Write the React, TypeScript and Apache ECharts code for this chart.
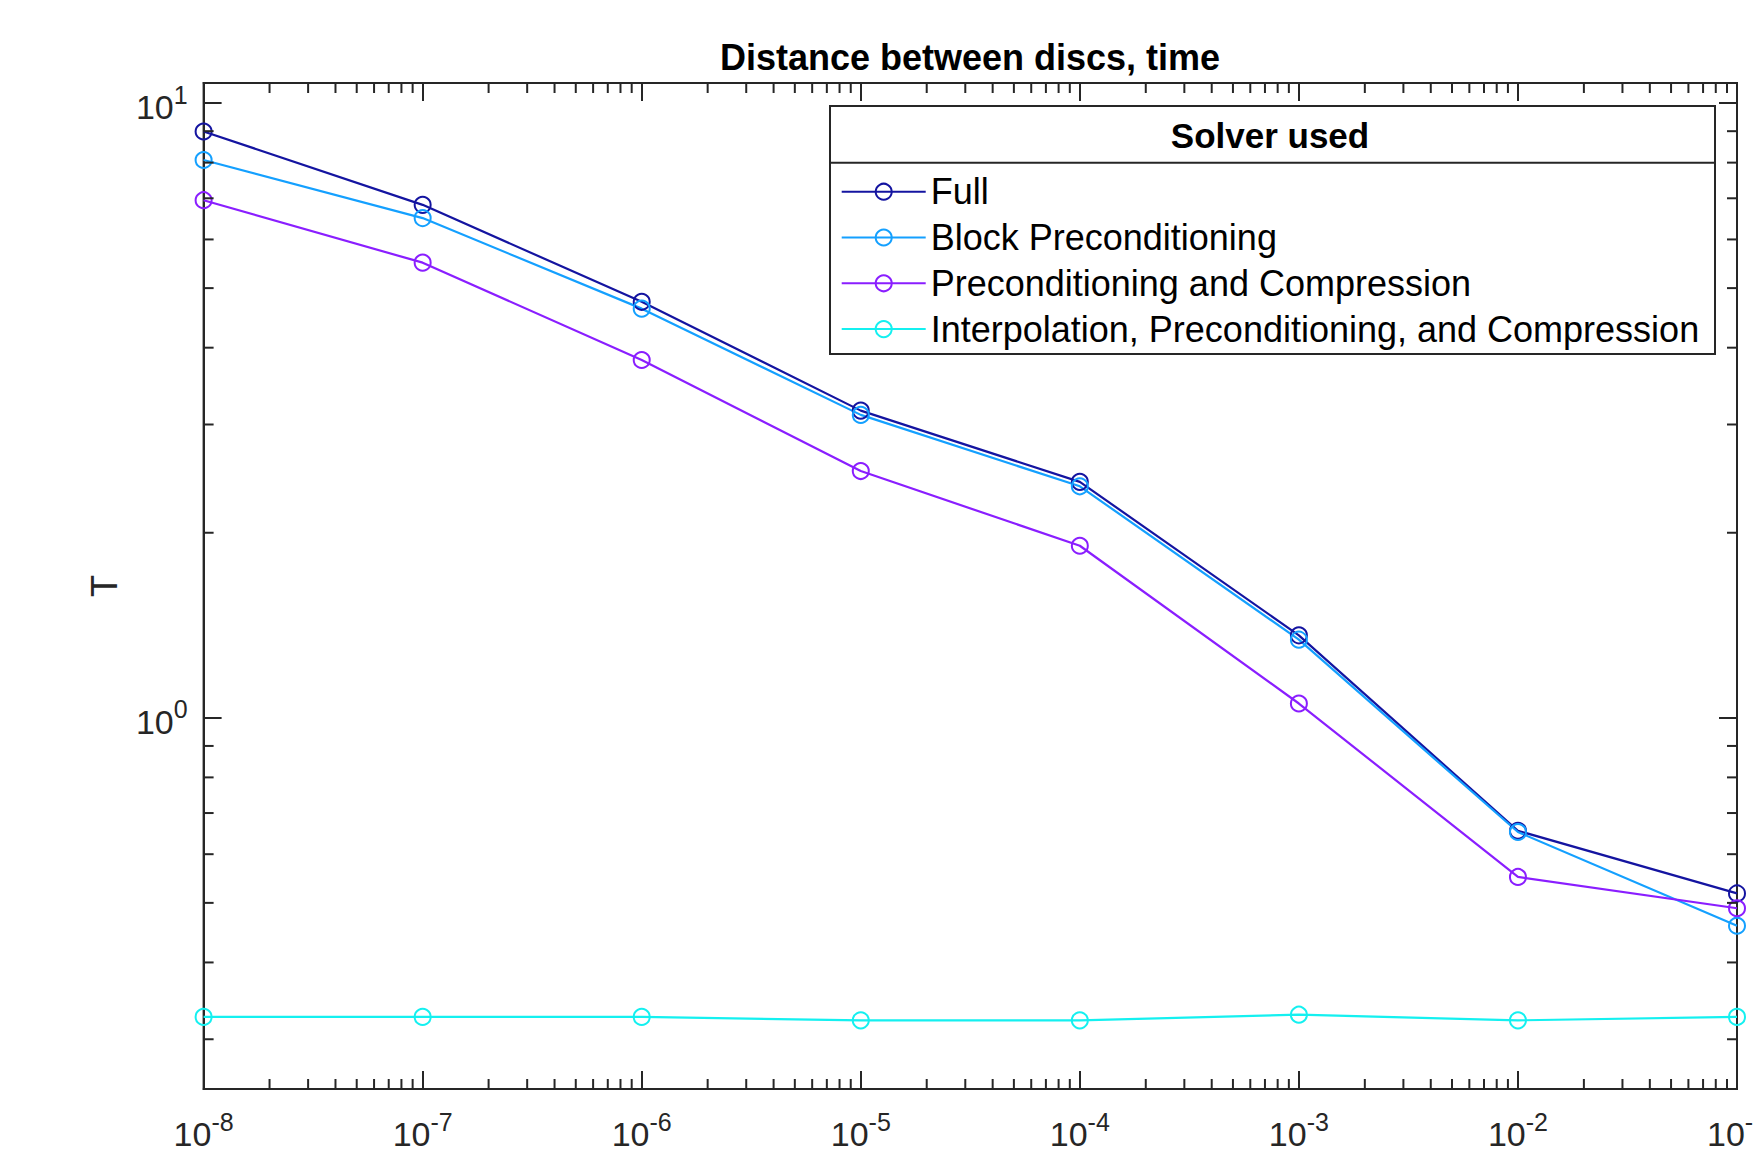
import React, { useEffect, useRef } from "react";
import * as echarts from "echarts";

const FONT = '"Liberation Sans", Arial, Helvetica, sans-serif';

// ---- data ----
const xValues = [1e-8, 1e-7, 1e-6, 1e-5, 1e-4, 1e-3, 1e-2, 1e-1];
const seriesNames = [
  "Full",
  "Block Preconditioning",
  "Preconditioning and Compression",
  "Interpolation, Preconditioning, and Compression",
];
const fullTimes = [8.99, 6.83, 4.75, 3.16, 2.42, 1.362, 0.655, 0.518];
const blockTimes = [8.08, 6.5, 4.63, 3.11, 2.38, 1.34, 0.652, 0.459];
const pcTimes = [6.95, 5.5, 3.82, 2.52, 1.905, 1.055, 0.551, 0.49];
const ipcTimes = [0.3262, 0.3262, 0.3262, 0.322, 0.322, 0.3289, 0.322, 0.3262];
const seriesColors = ["#1414A0", "#14A0FF", "#8A1EFF", "#14F0F0"];

const titleText = "Distance between discs, time";
const legendTitle = "Solver used";
const yAxisName = "T";
const xAxisRange = [1e-8, 1e-1];
const yAxisRange = [0.249, 10.78];
const minorMantissas = [2, 3, 4, 5, 6, 7, 8, 9];
const xMinorDecades = [-8, -7, -6, -5, -4, -3, -2];
const yMinorDecades = [-1, 0];

export default function App() {
  const ref = useRef<HTMLDivElement>(null);

  useEffect(() => {
    const chart = echarts.init(ref.current!, null, { renderer: "svg" });
    const axisColor = "#262626";
    const MAJOR = 18;
    const MINOR = 10;

    const xMinorTicks: number[] = [];
    xMinorDecades.forEach((d) =>
      minorMantissas.forEach((m) => xMinorTicks.push(m * Math.pow(10, d)))
    );
    const yMinorTicks: number[] = [];
    yMinorDecades.forEach((d) =>
      minorMantissas.forEach((m) => {
        const v = m * Math.pow(10, d);
        if (v > yAxisRange[0] && v < yAxisRange[1]) yMinorTicks.push(v);
      })
    );

    const supLabel = (v: number) => {
      const e = Math.log10(v);
      const r = Math.round(e);
      if (Math.abs(e - r) > 1e-6) return "";
      return `{b|10}{s|${r}}`;
    };
    const rich = {
      b: { fontSize: 34, fontFamily: FONT, color: axisColor, verticalAlign: "bottom" },
      s: {
        fontSize: 25,
        fontFamily: FONT,
        color: axisColor,
        verticalAlign: "bottom",
        padding: [0, 0, 17, 0],
      },
    };

    const makeSeries = (name: string, vals: number[], color: string) => ({
      type: "line",
      name,
      data: xValues.map((x, i) => [x, vals[i]]),
      symbol: "circle",
      symbolSize: 16,
      showSymbol: true,
      lineStyle: { color, width: 2.2 },
      itemStyle: { color: "rgba(255,255,255,0)", borderColor: color, borderWidth: 2 },
      emphasis: { disabled: true },
      z: 2,
    });

    const axisCommon = {
      type: "log",
      logBase: 10,
      splitLine: { show: false },
      axisLine: { show: true, lineStyle: { color: axisColor, width: 2 } },
      axisTick: { show: true, inside: true, length: MAJOR, lineStyle: { color: axisColor, width: 2 } },
      minorTick: { show: false },
    };

    const option: any = {
      animation: false,
      backgroundColor: "#fff",
      grid: {
        left: 203.6,
        right: 17,
        top: 83,
        bottom: 78,
        containLabel: false,
        outerBoundsMode: "none",
        show: true,
        borderColor: axisColor,
        borderWidth: 2,
        backgroundColor: "rgba(0,0,0,0)",
      },
      xAxis: [
        {
          ...axisCommon,
          position: "bottom",
          min: xAxisRange[0],
          max: xAxisRange[1],
          axisLabel: { formatter: supLabel, rich, fontSize: 34, margin: 20, color: axisColor },
        },
        {
          ...axisCommon,
          position: "top",
          min: xAxisRange[0],
          max: xAxisRange[1],
          axisLabel: { show: false },
        },
      ],
      yAxis: [
        {
          ...axisCommon,
          position: "left",
          min: yAxisRange[0],
          max: yAxisRange[1],
          name: yAxisName,
          nameLocation: "middle",
          nameGap: 81,
          nameTextStyle: { fontSize: 36, fontFamily: FONT, color: axisColor },
          axisLabel: { formatter: supLabel, rich, fontSize: 34, margin: 16, color: axisColor },
        },
        {
          ...axisCommon,
          position: "right",
          min: yAxisRange[0],
          max: yAxisRange[1],
          axisLabel: { show: false },
        },
      ],
      legend: {
        data: seriesNames,
        orient: "vertical",
        left: 840.7,
        top: 171.7,
        padding: 0,
        itemWidth: 84,
        itemHeight: 20,
        itemGap: 5.8,
        textStyle: { fontSize: 36, fontFamily: FONT, color: "#000", lineHeight: 40 },
        selectedMode: false,
        z: 10,
      },
      graphic: [
        {
          type: "rect",
          z: 5,
          shape: { x: 830, y: 106, width: 885, height: 248 },
          style: { fill: "#fff", stroke: axisColor, lineWidth: 2 },
        },
        {
          type: "line",
          z: 6,
          shape: { x1: 830, y1: 162.7, x2: 1715, y2: 162.7 },
          style: { stroke: axisColor, lineWidth: 2 },
        },
        {
          type: "text",
          z: 6,
          x: 1270,
          y: 135,
          style: {
            text: legendTitle,
            fontSize: 35,
            fontWeight: "bold",
            fontFamily: FONT,
            fill: "#000",
            align: "center",
            verticalAlign: "middle",
          },
        },
        {
          type: "text",
          z: 6,
          x: 970,
          y: 57.5,
          style: {
            text: titleText,
            fontSize: 36,
            fontWeight: "bold",
            fontFamily: FONT,
            fill: "#000",
            align: "center",
            verticalAlign: "middle",
          },
        },
      ],
      series: [
        makeSeries(seriesNames[0], fullTimes, seriesColors[0]),
        makeSeries(seriesNames[1], blockTimes, seriesColors[1]),
        makeSeries(seriesNames[2], pcTimes, seriesColors[2]),
        makeSeries(seriesNames[3], ipcTimes, seriesColors[3]),
        {
          type: "custom",
          name: "minorTicks",
          silent: true,
          clip: false,
          z: 3,
          data: [[1e-5, 1]],
          renderItem: (_params: any, api: any) => {
            const bottom = api.coord([xAxisRange[0], yAxisRange[0]])[1];
            const top = api.coord([xAxisRange[0], yAxisRange[1]])[1];
            const left = api.coord([xAxisRange[0], 1])[0];
            const right = api.coord([xAxisRange[1], 1])[0];
            const st = { stroke: axisColor, lineWidth: 2 };
            const children: any[] = [];
            xMinorTicks.forEach((v) => {
              const x = api.coord([v, 1])[0];
              children.push({ type: "line", shape: { x1: x, y1: bottom, x2: x, y2: bottom - MINOR }, style: st });
              children.push({ type: "line", shape: { x1: x, y1: top, x2: x, y2: top + MINOR }, style: st });
            });
            yMinorTicks.forEach((v) => {
              const y = api.coord([xAxisRange[0], v])[1];
              children.push({ type: "line", shape: { x1: left, y1: y, x2: left + MINOR, y2: y }, style: st });
              children.push({ type: "line", shape: { x1: right, y1: y, x2: right - MINOR, y2: y }, style: st });
            });
            return { type: "group", children };
          },
        },
      ],
    };

    chart.setOption(option);
    return () => chart.dispose();
  }, []);

  return (
    <div
      ref={ref}
      style={{ position: "fixed", left: 0, top: 0, width: 1754, height: 1167, background: "#fff" }}
    />
  );
}
